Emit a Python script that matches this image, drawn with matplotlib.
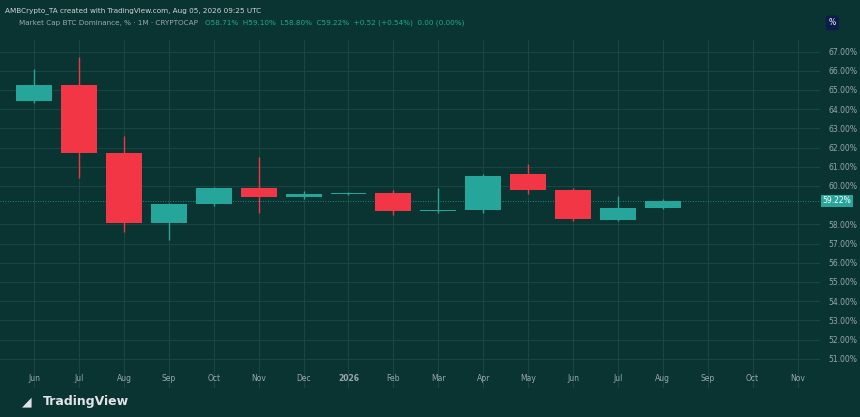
import matplotlib.pyplot as plt
import numpy as np

months = ['Jun', 'Jul', 'Aug', 'Sep', 'Oct', 'Nov', 'Dec', '2026', 'Feb', 'Mar',
          'Apr', 'May', 'Jun', 'Jul', 'Aug', 'Sep', 'Oct', 'Nov']
opens = [64.43, 65.25, 61.72, 58.07, 59.06, 59.90, 59.40, 59.60, 59.65, 58.70,
         58.75, 60.60, 59.80, 58.25, 58.85]
closes = [65.26, 61.72, 58.07, 59.06, 59.90, 59.40, 59.60, 59.65, 58.70, 58.75,
          60.50, 59.80, 58.30, 58.85, 59.22]
highs = [66.10, 66.70, 62.60, 59.10, 59.95, 61.50, 59.75, 59.70, 59.80, 59.90,
         60.60, 61.15, 59.90, 59.50, 59.30]
lows = [64.30, 60.40, 57.60, 57.20, 58.95, 58.60, 59.30, 59.55, 58.50, 58.60,
        58.60, 59.60, 58.20, 58.20, 58.80]
y_ticks = [v for v in range(51, 68) if v != 59]
last_price = 59.22

bg = '#0a3431'
up, down = '#26a69a', '#f23645'
txt = '#9aa7b0'

fig = plt.figure(figsize=(8.6, 4.17), dpi=100, facecolor=bg)
ax = fig.add_axes([0, 29 / 417, 820 / 860, 1 - 69 / 417], facecolor=bg)
ax.set_axisbelow(True)

for i, (o, c, h, l) in enumerate(zip(opens, closes, highs, lows)):
    col = up if c >= o else down
    ax.vlines(i, l, h, color=col, lw=1, zorder=2)
    ax.bar(i, max(abs(c - o), 0.04), bottom=min(o, c), width=0.8, color=col, zorder=3)

ax.set_xlim(-0.76, 17.5)
ax.set_ylim(49.48, 67.6)
ax.set_xticks(range(len(months)))
ax.set_xticklabels(months)
ax.set_yticks(y_ticks)
ax.yaxis.tick_right()
ax.set_yticklabels([f'{v:.2f}%' for v in y_ticks])
ax.tick_params(colors=txt, labelsize=5.5, length=0, pad=6)
ax.tick_params(axis='x', pad=-10)
for lab in ax.get_xticklabels():
    lab.set_fontweight('bold' if lab.get_text() == '2026' else 'normal')
ax.grid(color='#1c4a46', lw=0.6)
for s in ax.spines.values():
    s.set_visible(False)

ax.axhline(last_price, color=up, lw=0.6, ls=(0, (1, 2)))
ax.text(1.003, last_price, f'{last_price:.2f}%', transform=ax.get_yaxis_transform(),
        fontsize=5.5, color='white', va='center', ha='left',
        bbox=dict(boxstyle='square,pad=0.2', fc=up, ec='none'))

fig.text(0.006, 0.975, 'AMBCrypto_TA created with TradingView.com, Aug 05, 2026 09:25 UTC',
         color='#d0d4d8', fontsize=5.2, va='center')
fig.text(0.022, 0.945, 'Market Cap BTC Dominance, % · 1M · CRYPTOCAP', color=txt,
         fontsize=5.2, va='center')
fig.text(0.238, 0.945, 'O58.71%  H59.10%  L58.80%  C59.22%  +0.52 (+0.54%)  0.00 (0.00%)',
         color='#22a88f', fontsize=5.2, va='center')
fig.text(0.968, 0.945, '%', color='white', fontsize=5.5, va='center', ha='center',
         bbox=dict(boxstyle='round,pad=0.4', fc='#0b1e4a', ec='none'))
fig.text(0.05, 0.037, 'TradingView', color='#e0e3e8', fontsize=9, fontweight='bold', va='center')
fig.text(0.025, 0.037, '◢', color='#e0e3e8', fontsize=9, va='center')

fig.savefig('out.png', dpi=100, facecolor=bg)
